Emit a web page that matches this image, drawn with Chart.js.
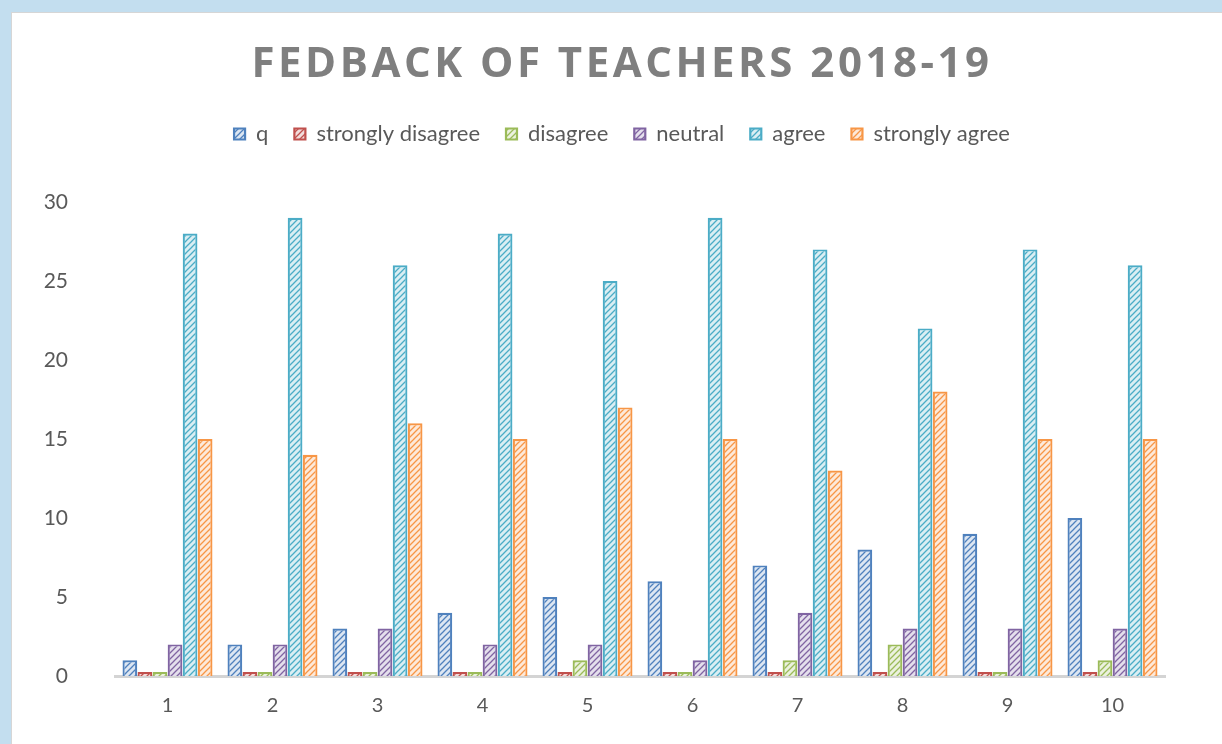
<!DOCTYPE html>
<html>
<head>
<meta charset="utf-8">
<script src="https://cdn.jsdelivr.net/npm/chart.js@4.4.1/dist/chart.umd.min.js"></script>
<style>
html,body{margin:0;padding:0;background:#c3deef;width:1222px;height:744px;overflow:hidden;}
#frame{position:absolute;left:11px;top:12px;width:1211px;height:732px;background:#fff;border-left:1px solid #d6d6d6;border-top:1px solid #d6d6d6;box-sizing:border-box;}
#wrap{position:absolute;left:0;top:0;width:1210px;height:731px;}
</style>
</head>
<body>
<div id="frame"><div id="wrap"><canvas id="c"></canvas></div></div>
<script>
const categories = ['1','2','3','4','5','6','7','8','9','10'];
const seriesNames = ['q','strongly disagree','disagree','neutral','agree','strongly agree'];
const qValues = [1,2,3,4,5,6,7,8,9,10];
const stronglyDisagree = [0,0,0,0,0,0,0,0,0,0];
const disagree = [0,0,0,0,1,0,1,2,0,1];
const neutral = [2,2,3,2,2,1,4,3,3,3];
const agree = [28,29,26,28,25,29,27,22,27,26];
const stronglyAgree = [15,14,16,15,17,15,13,18,15,15];
const yTicks = [0,5,10,15,20,25,30];

const lineColors = ['#4f81bd','#c0504d','#9bbb59','#8064a2','#4bacc6','#f79646'];
const tintColors = ['#dce6f2','#f2dcdb','#ebf1de','#e4dfec','#daeef3','#fde9d9'];

function hatch(tint, line){
  const c = document.createElement('canvas');
  c.width = 6; c.height = 6;
  const x = c.getContext('2d');
  x.fillStyle = tint; x.fillRect(0,0,6,6);
  x.strokeStyle = line; x.lineWidth = 1.3;
  x.beginPath();
  x.moveTo(-1,7); x.lineTo(7,-1);
  x.moveTo(-4,4); x.lineTo(4,-4);
  x.moveTo(2,10); x.lineTo(10,2);
  x.stroke();
  return x.createPattern(c,'repeat');
}

const allValues = [qValues, stronglyDisagree, disagree, neutral, agree, stronglyAgree];
const datasets = seriesNames.map((n,i)=>({
  label: n,
  data: allValues[i],
  backgroundColor: hatch(tintColors[i], lineColors[i]),
  borderColor: lineColors[i],
  borderWidth: 2.2,
  minBarLength: 4,
  yAxisID: 'y'
}));

const titlePlugin = {
  id:'titleSpacing',
  beforeDraw(chart){
    const t = chart.titleBlock;
    if (t && !t._wrapped){
      const orig = t.draw.bind(t);
      t.draw = function(){
        const ctx = this.ctx;
        ctx.save();
        ctx.letterSpacing = '3.5px';
        orig();
        ctx.restore();
      };
      t._wrapped = true;
    }
  }
};

new Chart(document.getElementById('c'), {
  type:'bar',
  data:{labels:categories, datasets},
  plugins:[titlePlugin],
  options:{
    responsive:true, maintainAspectRatio:false, animation:false,
    layout:{padding:{left:10,right:0,top:0,bottom:0}},
    datasets:{bar:{categoryPercentage:0.86, barPercentage:0.98}},
    plugins:{
      tooltip:{enabled:false},
      title:{display:true,text:'FEDBACK OF TEACHERS 2018-19',color:'#7f7f7f',
        font:{family:'Open Sans',size:42,weight:'bold',lineHeight:1.2},
        padding:{top:27,bottom:6.6}},
      subtitle:{display:true,text:'',weight:500,font:{size:10,lineHeight:1.2},padding:{top:0,bottom:35}},
      legend:{display:true,position:'top',weight:1000,
        labels:{color:'#595959',font:{family:'Lato',size:22},boxWidth:11,boxHeight:11,padding:26}}
    },
    scales:{
      x:{
        grid:{display:false,drawTicks:false},
        border:{display:true,color:'#d4d4d4',width:3},
        ticks:{color:'#595959',font:{family:'Lato',size:20},padding:18},
        afterFit(s){ s.height = 68; }
      },
      y:{
        min:0,max:30,
        afterBuildTicks(s){ s.ticks = yTicks.map(v=>({value:v})); },
        grid:{display:false,drawTicks:false},
        border:{display:false},
        ticks:{color:'#595959',font:{family:'Lato',size:21},padding:47},
        afterFit(s){ s.width = 93; }
      },
      yRight:{
        position:'right',min:0,max:30,
        grid:{display:false,drawTicks:false},
        border:{display:false},
        ticks:{display:false},
        afterFit(s){ s.width = 57; }
      }
    }
  }
});
</script>
</body>
</html>
